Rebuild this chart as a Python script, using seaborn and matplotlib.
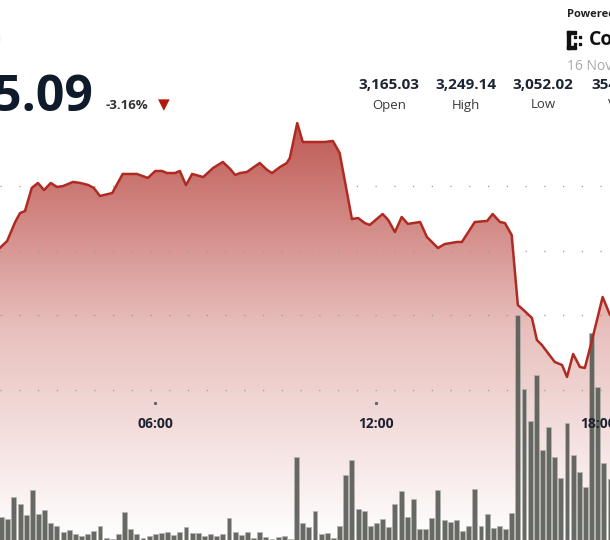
import numpy as np
import pandas as pd
import matplotlib

matplotlib.use("Agg")
import matplotlib.pyplot as plt
from matplotlib.colors import LinearSegmentedColormap
from matplotlib.patches import Rectangle
import seaborn as sns

# ----------------------------
# data

price_time = ["01:47", "01:59", "02:12", "02:20", "02:28", "02:39", "02:49", "02:59",
              "03:10", "03:20", "03:30", "03:46", "03:58", "04:11", "04:20", "04:30",
              "04:50", "05:07", "05:30", "05:48", "06:00", "06:11", "06:19", "06:32",
              "06:40", "06:50", "07:00", "07:18", "07:34", "07:50", "08:02", "08:10",
              "08:18", "08:29", "08:50", "09:02", "09:10", "09:23", "09:34", "09:39",
              "09:51", "10:00", "10:36", "10:49", "11:00", "11:20", "11:30", "11:41",
              "11:49", "12:10", "12:19", "12:30", "12:41", "12:51", "13:11", "13:22",
              "13:40", "13:51", "14:11", "14:19", "14:40", "15:00", "15:09", "15:21",
              "15:29", "15:40", "15:50", "16:01", "16:13", "16:21", "16:29", "16:39",
              "16:50", "17:02", "17:10", "17:20", "17:31", "17:39", "17:50", "18:08",
              "18:20"]
price = [3152.1, 3157.6, 3172.3, 3179.3, 3180.8, 3198.7, 3202.6, 3197.1,
         3202.6, 3199.5, 3200.2, 3203.4, 3202.6, 3201.0, 3198.7, 3192.5,
         3194.8, 3209.6, 3209.6, 3206.5, 3211.9, 3211.9, 3210.3, 3210.3,
         3211.9, 3200.9, 3209.6, 3207.2, 3214.2, 3218.9, 3213.4, 3208.8,
         3210.3, 3211.1, 3218.1, 3212.7, 3210.3, 3215.0, 3218.1, 3222.0,
         3249.1, 3234.4, 3234.4, 3235.2, 3225.9, 3174.6, 3175.4, 3171.5,
         3170.0, 3178.5, 3173.9, 3164.5, 3176.2, 3170.8, 3172.3, 3160.7,
         3152.1, 3155.2, 3156.8, 3156.8, 3172.3, 3173.1, 3178.5, 3172.3,
         3171.5, 3162.2, 3107.9, 3103.2, 3097.8, 3080.7, 3076.9, 3070.6,
         3063.7, 3061.3, 3052.0, 3069.9, 3059.8, 3059.0, 3079.2, 3114.1,
         3100.1]

# 10-minute volume bars starting 01:40
vol_start = "01:40"
volume = [67,
          23, 21, 43, 36, 25, 50, 26, 30, 17, 14, 8, 10, 6, 4, 6, 9, 14, 2, 1, 6,
          28, 11, 6, 2, 4, 6, 7, 8, 5, 8, 13, 7, 7, 4, 6, 4, 6, 22, 8, 5,
          8, 2, 8, 3, 1, 3, 4, 1, 83, 17,
          13, 29, 6, 7, 2, 14, 65, 80, 31, 29, 14, 17, 21, 13, 36, 49, 23, 41, 11, 11,
          22, 50, 20, 18, 20, 9, 14, 51, 14, 26, 12, 14, 11, 27,
          225, 151, 119, 165, 90, 113, 83, 62, 117, 85, 68, 53, 207, 153, 77, 61]

tick_hours = [6, 12, 18]
tick_labels = ["06:00", "12:00", "18:00"]

last_price = "3,065.09"
change_pct = "-3.16%"
stat_values = ["3,165.03", "3,249.14", "3,052.02", "354.41K"]
stat_names = ["Open", "High", "Low", "Volume"]


def to_hours(s):
    return pd.to_timedelta(s + ":00").total_seconds() / 3600.0


t_price = np.array([to_hours(s) for s in price_time])
t_vol = to_hours(vol_start) + np.arange(len(volume)) / 6.0

# ----------------------------
# layout (pixel calibration of the 610x540 canvas)
W, H = 610, 540
X0, X1 = 1.789, 18.333          # visible time window, hours
P_BOT, P_TOP = 2925.5, 3344.6   # price range spanning the whole canvas
GRID = [3200, 3150, 3100, 3041.9]

sns.set_theme(style="white")
plt.rcParams['font.family'] = ['Open Sans', 'DejaVu Sans']

fig = plt.figure(figsize=(W / 100, H / 100), dpi=100)
ax = fig.add_axes([0, 0, 1, 1])
axv = fig.add_axes([0, 0, 1, 1], sharex=ax)
axl = fig.add_axes([0, 0, 1, 1], sharex=ax, sharey=ax)
for a in (ax, axv, axl):
    a.set_axis_off()
    a.patch.set_alpha(0)

# gradient area under the price line
cmap = LinearSegmentedColormap.from_list("fade", ["#be5752", "#e8c0bd", "#ffffff"])
grad = np.linspace(0, 1, 256).reshape(-1, 1)
im = ax.imshow(grad, extent=[X0 - 1, X1 + 1, P_BOT, 3251.5], aspect="auto",
               cmap=cmap, origin="upper", zorder=1, interpolation="bilinear")
area = ax.fill_between(t_price, price, P_BOT, facecolor="none", edgecolor="none")
im.set_clip_path(area.get_paths()[0], transform=ax.transData)

for g in GRID:
    ax.axhline(g, color="#9a9a9a", lw=0.9, ls=(0, (1, 14)), zorder=2)

ax.set_xlim(X0, X1)
ax.set_ylim(P_BOT, P_TOP)

# volume bars
sns.barplot(x=t_vol, y=volume, ax=axv, native_scale=True, color="#575a53",
            edgecolor="#b4b5b0", linewidth=0.6, alpha=0.9, width=0.8, zorder=3)
axv.set_ylim(0, H)
axv.set_xlim(X0, X1)
axv.set_axis_off()

# price line on top
sns.lineplot(x=t_price, y=price, ax=axl, color="#b02a22", lw=1.8, sort=False,
             estimator=None)
axl.set_xlim(X0, X1)
axl.set_ylim(P_BOT, P_TOP)
axl.set_axis_off()

# time ticks
xt = axl.get_xaxis_transform()
axl.plot(tick_hours, [1 - 403 / H] * len(tick_hours), ls="none", marker="s",
         ms=1.2, color="#666666", transform=xt)
for h, lab in zip(tick_hours, tick_labels):
    axl.text(h, 1 - 424 / H, lab, transform=xt, ha="center", va="center",
             fontsize=10, fontweight="bold", color="#1d2230")


def fx(px):
    return px / W


def fy(py):
    return 1 - py / H


# header
fig.text(fx(2), fy(37), "Ethereum", ha="right", va="center", fontsize=14, color="#b5b5b5")
fig.text(fx(93), fy(111), last_price, ha="right", va="baseline", fontsize=36,
         fontweight="bold", color="#0f1b2b")
fig.text(fx(106), fy(109), change_pct, ha="left", va="baseline", fontsize=9.5,
         fontweight="bold", color="#333333")
fig.text(fx(164), fy(105), "\u25bc", ha="center", va="center", fontsize=11,
         color="#b0180c", family="DejaVu Sans")

for i, (v, n) in enumerate(zip(stat_values, stat_names)):
    cx = 389 + 77 * i
    if i == 3:
        cx = 620
    fig.text(fx(cx), fy(85), v, ha="center", va="center", fontsize=11,
             fontweight="bold", color="#1c2533")
    fig.text(fx(cx + (12 if i == 3 else 0)), fy(105), n, ha="center", va="center",
             fontsize=9.5, color="#3a3a3a")

fig.text(fx(567), fy(15), "Powered by", ha="left", va="center", fontsize=8,
         fontweight="bold", color="#222222")
fig.text(fx(589), fy(40), "CoinDesk", ha="left", va="center", fontsize=14,
         fontweight="bold", color="#111111")
fig.text(fx(567), fy(66), "16 Nov 2023", ha="left", va="center", fontsize=10,
         color="#a9a9a9")

# small logo mark
for (x, y, w, h) in [(567, 31, 3, 18), (567, 31, 9, 3), (567, 46, 9, 3),
                     (574, 36, 2, 2), (574, 43, 2, 2), (579, 36, 2, 2), (579, 43, 2, 2)]:
    fig.add_artist(Rectangle((fx(x), fy(y + h)), w / W, h / H, color="#111111",
                             transform=fig.transFigure))

fig.savefig("out.png", dpi=100)
